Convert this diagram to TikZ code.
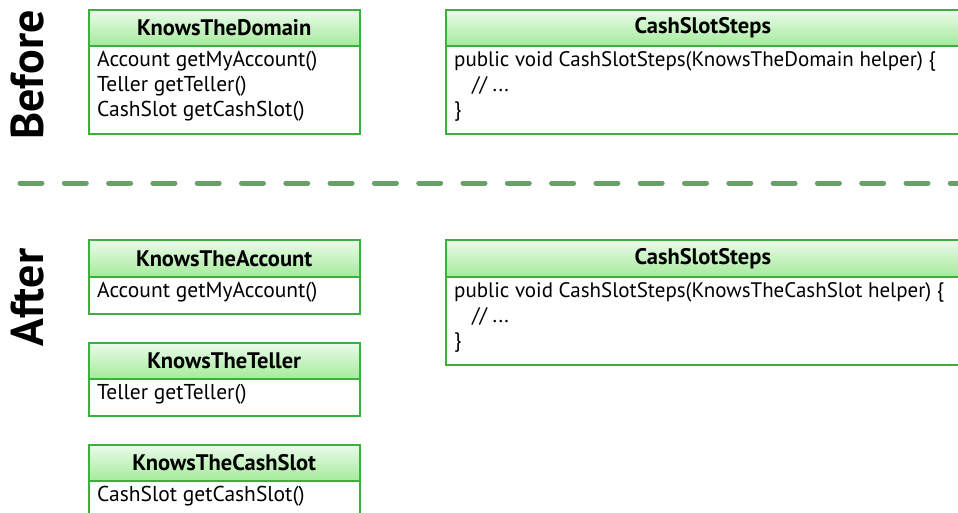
\documentclass[tikz,border=0pt]{standalone}
\usepackage{fontspec}
\setmainfont{PT Sans}
\definecolor{boxgreen}{RGB}{60,175,60}
\definecolor{hdrtop}{RGB}{235,251,235}
\definecolor{hdrbot}{RGB}{165,235,155}
\definecolor{dashgreen}{RGB}{104,160,104}
\tikzset{
  hdr/.style={draw=boxgreen, line width=1.5pt, top color=hdrtop, bottom color=hdrbot,
    anchor=north west, inner sep=0pt, minimum height=36pt,
    font=\bfseries\fontsize{22.5}{26}\selectfont},
  bodybox/.style={draw=boxgreen, line width=1.5pt, fill=white, anchor=north west, inner sep=0pt},
  txt/.style={anchor=base west, inner sep=0pt, font=\fontsize{21.5}{26}\selectfont},
  code/.style={anchor=base west, inner sep=0pt, font=\fontsize{21}{26}\selectfont},
  side/.style={rotate=90, anchor=base, font=\bfseries\fontsize{46}{50}\selectfont, inner sep=0pt},
}
\begin{document}
\begin{tikzpicture}[x=1pt,y=-1pt]
\useasboundingbox (0,0) rectangle (958,512);
\begin{scope}
\clip (0,0) rectangle (958,512);
% Before
\node[side] (before) at (43,75) {Before};
\node[bodybox, minimum width=271pt, minimum height=88pt] (domb) at (88,45) {};
\node[hdr, minimum width=271pt] (domh) at (88,9) {KnowsTheDomain};
\node[txt] (d1) at (97,66) {Account getMyAccount()};
\node[txt] (d2) at (97,91) {Teller getTeller()};
\node[txt] (d3) at (97,116) {CashSlot getCashSlot()};

\node[bodybox, minimum width=514pt, minimum height=88pt] (s1b) at (445,45) {};
\node[hdr, minimum width=514pt] (s1h) at (445,9) {CashSlotSteps};
\node[code] (s11) at (454,66.5) {public void CashSlotSteps(KnowsTheDomain helper) \{};
\node[code] (s12) at (472,91.5) {// ...};
\node[code] (s13) at (454,116.5) {\}};

% separator
\coordinate (dl) at (20,183);
\coordinate (dr) at (975,183);
\draw[dashgreen, line width=5pt, line cap=round, dash pattern=on 22pt off 22.3pt] (dl) -- (dr);

% After
\node[side] (after) at (43,297.5) {After};
\node[bodybox, minimum width=271pt, minimum height=37pt] (accb) at (88,276) {};
\node[hdr, minimum width=271pt, minimum height=37pt] (acch) at (88,239) {KnowsTheAccount};
\node[txt] (a1) at (97,297) {Account getMyAccount()};

\node[bodybox, minimum width=271pt, minimum height=37pt] (telb) at (88,378) {};
\node[hdr, minimum width=271pt] (telh) at (88,342) {KnowsTheTeller};
\node[txt] (t1) at (97,399) {Teller getTeller()};

\node[bodybox, minimum width=271pt, minimum height=50pt] (csb) at (88,480) {};
\node[hdr, minimum width=271pt] (csh) at (88,444) {KnowsTheCashSlot};
\node[txt] (c1) at (97,501) {CashSlot getCashSlot()};

\node[bodybox, minimum width=514pt, minimum height=88pt] (s2b) at (445,276) {};
\node[hdr, minimum width=514pt, minimum height=37pt] (s2h) at (445,239) {CashSlotSteps};
\node[code] (s21) at (454,297.5) {public void CashSlotSteps(KnowsTheCashSlot helper) \{};
\node[code] (s22) at (472,322.5) {// ...};
\node[code] (s23) at (454,347.5) {\}};
\end{scope}
\end{tikzpicture}
\end{document}
